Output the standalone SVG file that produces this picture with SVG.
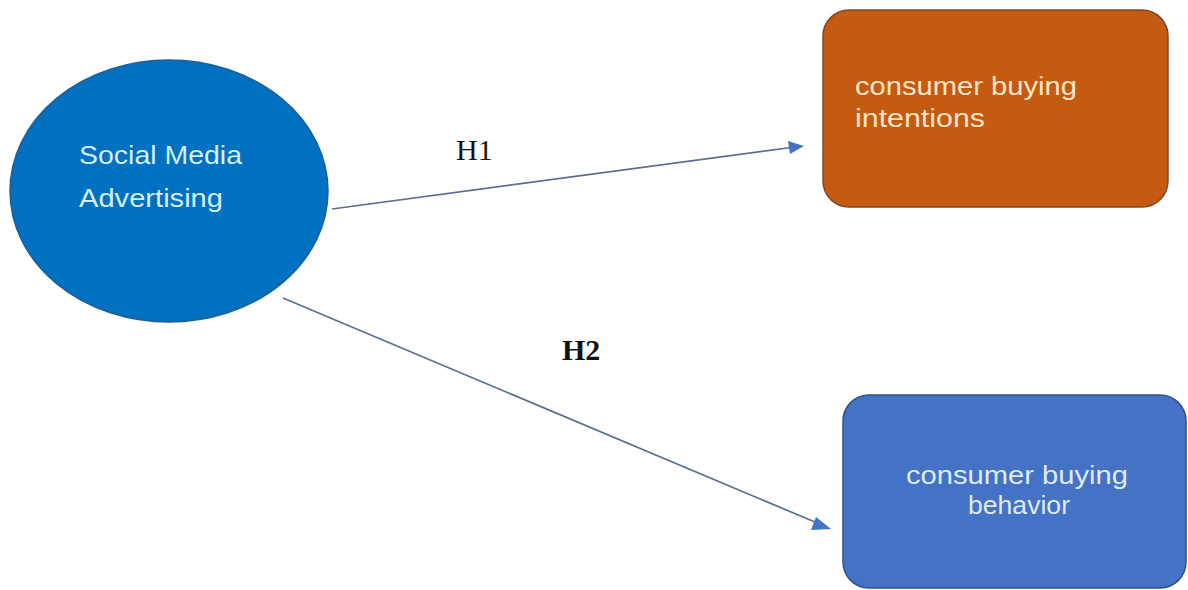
<svg xmlns="http://www.w3.org/2000/svg" width="1188" height="590" viewBox="0 0 1188 590">
<defs>
<style>
.lbl{font-family:"Liberation Sans",Arial,sans-serif;font-size:25px;}
.h{font-family:"Liberation Serif","Times New Roman",serif;font-size:30px;fill:#111;}
.conn{stroke:#5a6f94;stroke-width:1.7;fill:none;}
.head{fill:#4472C4;}
</style>
</defs>
<rect width="1188" height="590" fill="#ffffff"/>
<g id="connectors">
<line class="conn" x1="332" y1="209" x2="795" y2="147"/>
<path class="head" d="M788,141 L804,146 L790,154 Z"/>
<line class="conn" x1="283" y1="298" x2="822" y2="525"/>
<path class="head" d="M816,517 L831,529 L811,530 Z"/>
</g>
<g id="node-sma">
<ellipse cx="169" cy="191" rx="159" ry="131" fill="#0070C0" stroke="#1f5f99" stroke-width="1.5"/>
<text class="lbl" x="79" y="164" fill="#D6EEF8" textLength="163" lengthAdjust="spacingAndGlyphs">Social Media</text>
<text class="lbl" x="79" y="207" fill="#D6EEF8" textLength="144" lengthAdjust="spacingAndGlyphs">Advertising</text>
</g>
<g id="node-intentions">
<rect x="823" y="10" width="345" height="197" rx="26" ry="26" fill="#C55A11" stroke="#7d4a2c" stroke-width="1.5"/>
<text class="lbl" x="855" y="95" fill="#FCE4C8" textLength="222" lengthAdjust="spacingAndGlyphs">consumer buying</text>
<text class="lbl" x="855" y="127" fill="#FCE4C8" textLength="130" lengthAdjust="spacingAndGlyphs">intentions</text>
</g>
<g id="node-behavior">
<rect x="843" y="395" width="343" height="193" rx="26" ry="26" fill="#4472C4" stroke="#2F528F" stroke-width="1.5"/>
<text class="lbl" x="906" y="484" fill="#DEEBF7" textLength="222" lengthAdjust="spacingAndGlyphs">consumer buying</text>
<text class="lbl" x="968" y="514" fill="#DEEBF7" textLength="102" lengthAdjust="spacingAndGlyphs">behavior</text>
</g>
<g id="labels">
<text class="h" x="456" y="160">H1</text>
<text class="h" x="562" y="360" font-weight="bold">H2</text>
</g>
</svg>
